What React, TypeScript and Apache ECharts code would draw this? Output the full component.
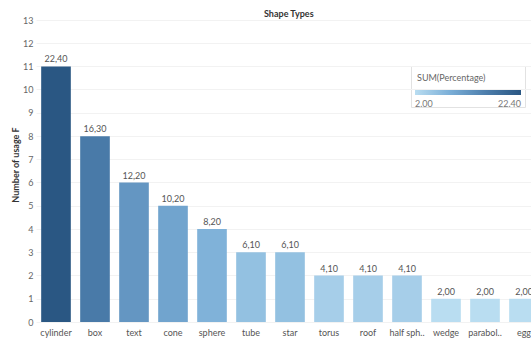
import React, { useEffect, useRef } from "react";
import * as echarts from "echarts";

const categories = ["cylinder", "box", "text", "cone", "sphere", "tube", "star", "torus", "roof", "half sph..", "wedge", "parabol..", "egg"];
const counts = [11, 8, 6, 5, 4, 3, 3, 2, 2, 2, 1, 1, 1];
const percentages = [22.4, 16.3, 12.2, 10.2, 8.2, 6.1, 6.1, 4.1, 4.1, 4.1, 2.0, 2.0, 2.0];
const yTicks = [0, 1, 2, 3, 4, 5, 6, 7, 8, 9, 10, 11, 12, 13];
const colorStops = ["#b9ddf1", "#7aaed7", "#4d7eac", "#2a5783"];

const FONT = "Lato, 'Open Sans', sans-serif";

export default function App() {
  const ref = useRef<HTMLDivElement>(null);
  useEffect(() => {
    document.body.style.margin = "0";
    document.body.style.overflow = "hidden";
    const chart = echarts.init(ref.current!, undefined, { renderer: "svg" });
    const pMin = Math.min(...percentages);
    const pMax = Math.max(...percentages);
    chart.setOption({
      animation: false,
      textStyle: { fontFamily: FONT },
      grid: { left: 36.5, width: 507, top: 20, height: 302 },
      xAxis: {
        type: "category",
        data: categories,
        axisLine: { show: false },
        axisTick: { show: false },
        axisLabel: { color: "#555", fontSize: 9, margin: 6, interval: 0, fontFamily: FONT },
      },
      yAxis: {
        type: "value",
        min: yTicks[0],
        max: yTicks[yTicks.length - 1],
        interval: 1,
        axisLine: { show: false },
        axisTick: { show: false },
        axisLabel: { color: "#666", fontSize: 9, margin: 3, fontFamily: FONT },
        splitLine: { lineStyle: { color: "#f2f2f2", width: 1 } },
      },
      visualMap: {
        show: false,
        type: "continuous",
        min: pMin,
        max: pMax,
        dimension: 2,
        seriesIndex: 0,
        inRange: { color: colorStops },
      },
      series: [
        {
          type: "bar",
          barCategoryGap: "24%",
          encode: { x: 0, y: 1 },
          data: categories.map((c, i) => [c, counts[i], percentages[i]]),
          label: {
            show: true,
            position: "top",
            distance: 3,
            color: "#555",
            fontSize: 9,
            fontFamily: FONT,
            formatter: (p: any) => p.value[2].toFixed(2).replace(".", ","),
          },
        },
      ],
      graphic: [
        {
          type: "text",
          x: 264,
          y: 13,
          style: { text: "Shape Types", fill: "#333", font: `bold 9px ${FONT}`, textVerticalAlign: "middle" },
        },
        {
          type: "text",
          x: 15,
          y: 165,
          rotation: Math.PI / 2,
          style: {
            text: "Number of usage F",
            fill: "#333",
            font: `bold 9px ${FONT}`,
            textAlign: "center",
            textVerticalAlign: "middle",
          },
        },
        {
          type: "rect",
          shape: { x: 411.5, y: 66.5, width: 114, height: 41 },
          style: { fill: "#fff", stroke: "#e2e2e2", lineWidth: 1 },
        },
        {
          type: "text",
          x: 417,
          y: 77,
          style: { text: "SUM(Percentage)", fill: "#666", font: `9px ${FONT}`, textVerticalAlign: "middle" },
        },
        {
          type: "rect",
          shape: { x: 415, y: 89, width: 106, height: 6 },
          style: {
            fill: new echarts.graphic.LinearGradient(0, 0, 1, 0, colorStops.map((c, i) => ({ offset: i / (colorStops.length - 1), color: c }))),
          },
        },
        {
          type: "text",
          x: 415,
          y: 103,
          style: { text: pMin.toFixed(2), fill: "#777", font: `9px ${FONT}`, textVerticalAlign: "middle" },
        },
        {
          type: "text",
          x: 521,
          y: 103,
          style: { text: pMax.toFixed(2), fill: "#777", font: `9px ${FONT}`, textAlign: "right", textVerticalAlign: "middle" },
        },
      ],
    });
    return () => chart.dispose();
  }, []);
  return (
    <div style={{ position: "fixed", left: 0, top: 0, width: 531, height: 338, overflow: "hidden", background: "#fff" }}>
      <div ref={ref} style={{ width: 560, height: 338 }} />
    </div>
  );
}
